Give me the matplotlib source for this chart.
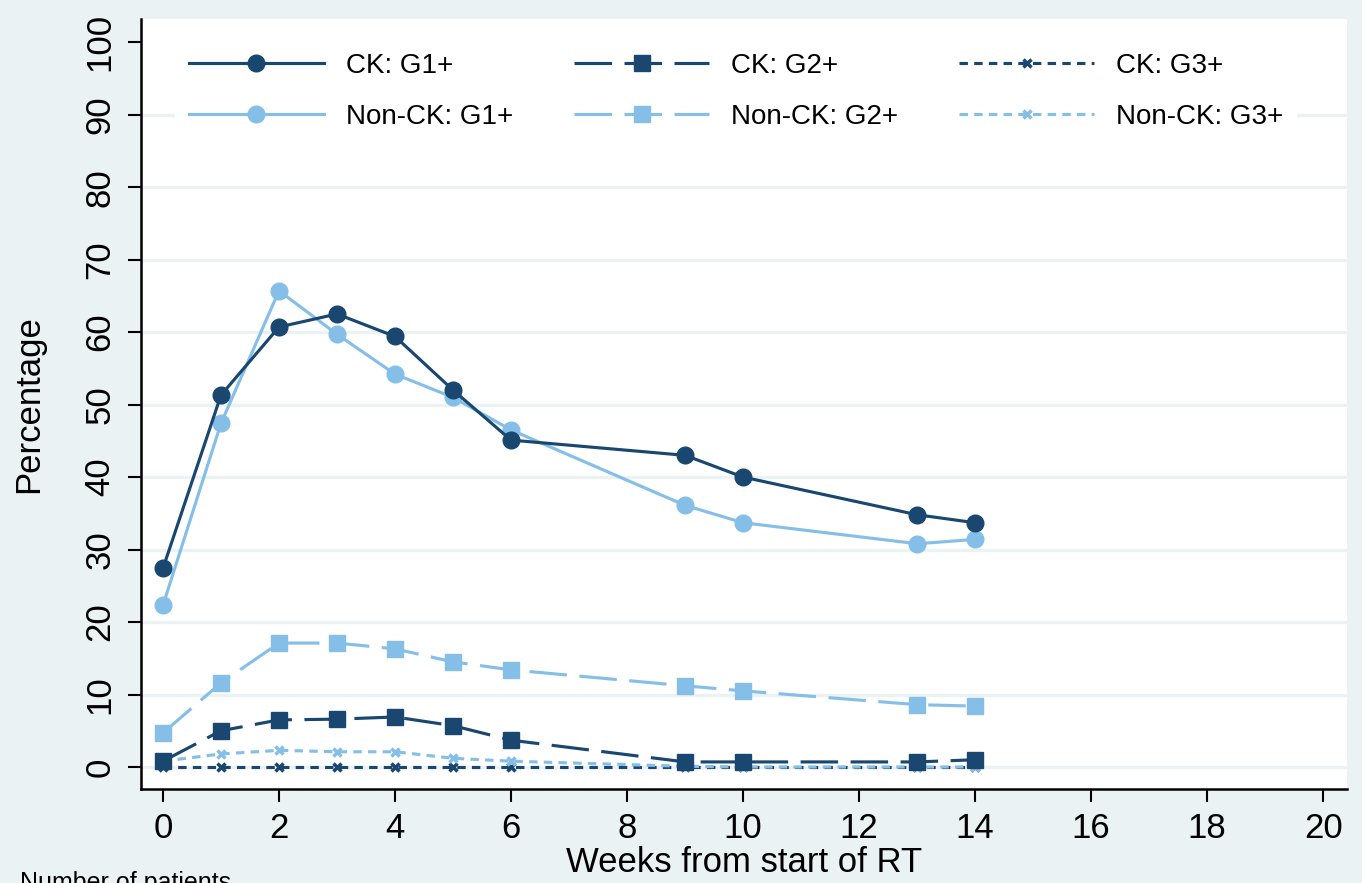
import matplotlib.pyplot as plt
import numpy as np

plt.rcParams['font.family'] = ['Liberation Sans', 'DejaVu Sans']

weeks = [0, 1, 2, 3, 4, 5, 6, 9, 10, 13, 14]
ck_g1 = [27.4, 51.3, 60.7, 62.5, 59.4, 52.0, 45.1, 43.0, 40.0, 34.8, 33.7]
nonck_g1 = [22.3, 47.4, 65.7, 59.7, 54.2, 51.0, 46.5, 36.1, 33.7, 30.8, 31.4]
ck_g2 = [0.8, 5.0, 6.5, 6.6, 6.9, 5.7, 3.7, 0.7, 0.7, 0.7, 1.0]
nonck_g2 = [4.7, 11.6, 17.1, 17.1, 16.3, 14.5, 13.4, 11.2, 10.5, 8.6, 8.4]
ck_g3 = [0, 0, 0, 0, 0, 0, 0, 0, 0, 0, 0]
nonck_g3 = [0.8, 1.8, 2.3, 2.1, 2.1, 1.2, 0.8, 0.1, 0, 0, 0]

navy = '#1a476f'
light = '#85bfe8'
bg = '#eaf2f3'

fig = plt.figure(figsize=(13.62, 8.83), dpi=100, facecolor=bg)
ax = fig.add_axes([0.1035, 0.1065, 0.8855, 0.872])
ax.set_facecolor('white')

long_dash = (0, (12, 4))
short_dash = (0, (2.7, 2))
lw = 2.25

ax.plot(weeks, ck_g1, color=navy, lw=lw, marker='o', ms=12, label='CK: G1+', zorder=6)
ax.plot(weeks, nonck_g1, color=light, lw=lw, marker='o', ms=12, label='Non-CK: G1+', zorder=5)
ax.plot(weeks, ck_g2, color=navy, lw=lw, ls=long_dash, marker='s', ms=12, label='CK: G2+', zorder=6)
ax.plot(weeks, nonck_g2, color=light, lw=lw, ls=long_dash, marker='s', ms=12, label='Non-CK: G2+', zorder=5)
ax.plot(weeks, ck_g3, color=navy, lw=lw, ls=short_dash, marker='x', ms=6, mew=2.5, label='CK: G3+', zorder=4)
ax.plot(weeks, nonck_g3, color=light, lw=lw, ls=short_dash, marker='x', ms=6, mew=2.5, label='Non-CK: G3+', zorder=5)

ax.set_xlim(-0.379, 20.41)
ax.set_ylim(-3.03, 103.2)
ax.set_xticks(np.arange(0, 21, 2))
ax.set_yticks(np.arange(0, 101, 10))
# stata style grid, none at the top value
for g in np.arange(0, 91, 10):
    ax.axhline(g, color=bg, lw=2.4, zorder=0)

for s in ['top', 'right']:
    ax.spines[s].set_visible(False)
for s in ['left', 'bottom']:
    ax.spines[s].set_linewidth(1.8)
ax.tick_params(axis='both', direction='out', length=9.5, width=1.5, labelsize=25)
ax.tick_params(axis='x', pad=7)
ax.tick_params(axis='y', pad=8)
plt.setp(ax.get_yticklabels(), rotation=90, va='center')

ax.set_xlabel('Weeks from start of RT', fontsize=25, labelpad=1)
ax.set_ylabel('Percentage', fontsize=25, labelpad=28)

leg = ax.legend(ncol=3, loc='upper left', bbox_to_anchor=(175 / 1362, 1 - 39 / 883),
                bbox_transform=fig.transFigure,
                fontsize=20, handlelength=4.85, handletextpad=0.8,
                columnspacing=2.2, labelspacing=0.9, frameon=True,
                facecolor='white', edgecolor='white', framealpha=1,
                fancybox=False, borderpad=0.5, borderaxespad=0)
leg.get_frame().set_linewidth(0)

fig.text(20 / 1362, -0.014, 'Number of patients', fontsize=18, ha='left', va='bottom')

fig.savefig('out.png', dpi=100, facecolor=bg)
